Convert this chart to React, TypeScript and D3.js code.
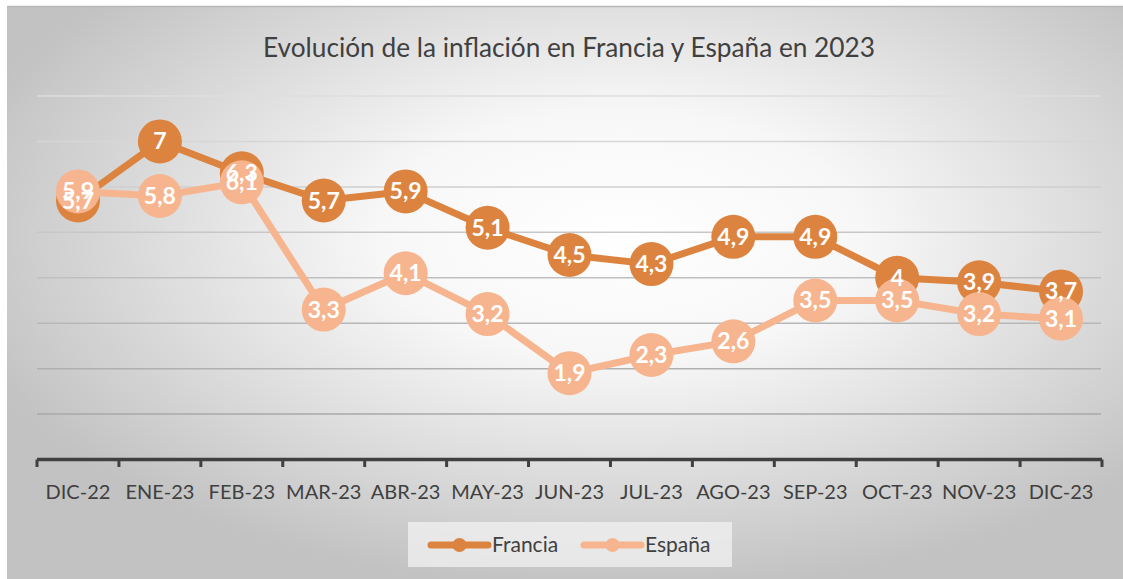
import React from "react";
import * as d3 from "d3";

const categories = ["DIC-22","ENE-23","FEB-23","MAR-23","ABR-23","MAY-23","JUN-23","JUL-23","AGO-23","SEP-23","OCT-23","NOV-23","DIC-23"];
const francia = [5.7, 7, 6.3, 5.7, 5.9, 5.1, 4.5, 4.3, 4.9, 4.9, 4, 3.9, 3.7];
const espana = [5.9, 5.8, 6.1, 3.3, 4.1, 3.2, 1.9, 2.3, 2.6, 3.5, 3.5, 3.2, 3.1];
const yTicks = [1, 2, 3, 4, 5, 6, 7, 8];
const seriesNames = ["Francia", "España"];
const title = "Evolución de la inflación en Francia y España en 2023";

const W = 1123, H = 579;
const C_FR = "#DC843F";
const C_ES = "#F7B58F";
const FONT = "Lato, 'Open Sans', sans-serif";

export default function App() {
  const x = d3.scaleBand<string>().domain(categories).range([37, 1102]).padding(0);
  const y = d3.scaleLinear().domain([0, 8]).range([459.5, 96]);
  const cx = (c: string) => (x(c) as number) + x.bandwidth() / 2;
  const line = d3.line<number>().x((_, i) => cx(categories[i])).y(d => y(d));
  const fmt = (v: number) => String(v).replace(".", ",");
  const gridColor = d3.scaleLinear<string>().domain([1, 8]).range(["#a8a8a8", "#dedede"]);
  const series = [
    { name: seriesNames[0], values: francia, color: C_FR },
    { name: seriesNames[1], values: espana, color: C_ES },
  ];
  const boundaries = d3.range(categories.length + 1).map(i => 37 + i * x.bandwidth());

  return (
    <svg width={W} height={H} style={{ position: "absolute", left: 0, top: 0, display: "block" }}>
      <defs>
        <radialGradient id="bg" cx="55%" cy="40%" r="62%" fx="55%" fy="40%">
          <stop offset="0" stopColor="#ffffff" />
          <stop offset="0.35" stopColor="#f7f7f7" />
          <stop offset="1" stopColor="#c2c2c2" />
        </radialGradient>
      </defs>
      <rect x={0} y={0} width={W} height={H} fill="#ffffff" />
      <rect x={7} y={6} width={W - 7} height={H - 6} fill="url(#bg)" />
      <line x1={7} x2={W} y1={6.5} y2={6.5} stroke="#b8b8b8" strokeWidth={1.5} />
      <text x={569} y={57} textAnchor="middle" fontFamily={FONT} fontSize={27} fontWeight={400} fill="#404040" textLength={612} lengthAdjust="spacingAndGlyphs">{title}</text>
      {yTicks.map(t => (
        <line key={t} x1={37} x2={1101} y1={y(t)} y2={y(t)} stroke={gridColor(t)} strokeWidth={1.5} />
      ))}
      <line x1={37} x2={1102} y1={459.5} y2={459.5} stroke="#404040" strokeWidth={3.5} />
      {boundaries.map((b, i) => (
        <line key={i} x1={b} x2={b} y1={459.5} y2={467} stroke="#404040" strokeWidth={3} />
      ))}
      {categories.map(c => (
        <text key={c} x={cx(c)} y={499} textAnchor="middle" fontFamily={FONT} fontSize={20} fill="#404040">{c}</text>
      ))}
      {series.map(s => (
        <g key={s.name}>
          <path d={line(s.values) || ""} fill="none" stroke={s.color} strokeWidth={7} strokeLinejoin="round" />
          {s.values.map((v, i) => (
            <circle key={i} cx={cx(categories[i])} cy={y(v)} r={22} fill={s.color} />
          ))}
        </g>
      ))}
      {series.map(s => (
        <g key={s.name + "l"}>
          {s.values.map((v, i) => (
            <text key={i} x={cx(categories[i])} y={y(v) + 8} textAnchor="middle" fontFamily={FONT} fontSize={23} fontWeight={700} fill="#ffffff">{fmt(v)}</text>
          ))}
        </g>
      ))}
      <rect x={408} y={522} width={324} height={45} fill="#f2f2f2" fillOpacity={0.75} />
      {series.map((s, i) => {
        const lx = 431 + i * 153;
        return (
          <g key={s.name + "lg"}>
            <line x1={lx} x2={lx + 57} y1={545} y2={545} stroke={s.color} strokeWidth={7} strokeLinecap="round" />
            <circle cx={lx + 28.5} cy={545} r={7} fill={s.color} />
            <text x={lx + 61} y={552} fontFamily={FONT} fontSize={21} fill="#404040">{s.name}</text>
          </g>
        );
      })}
    </svg>
  );
}
